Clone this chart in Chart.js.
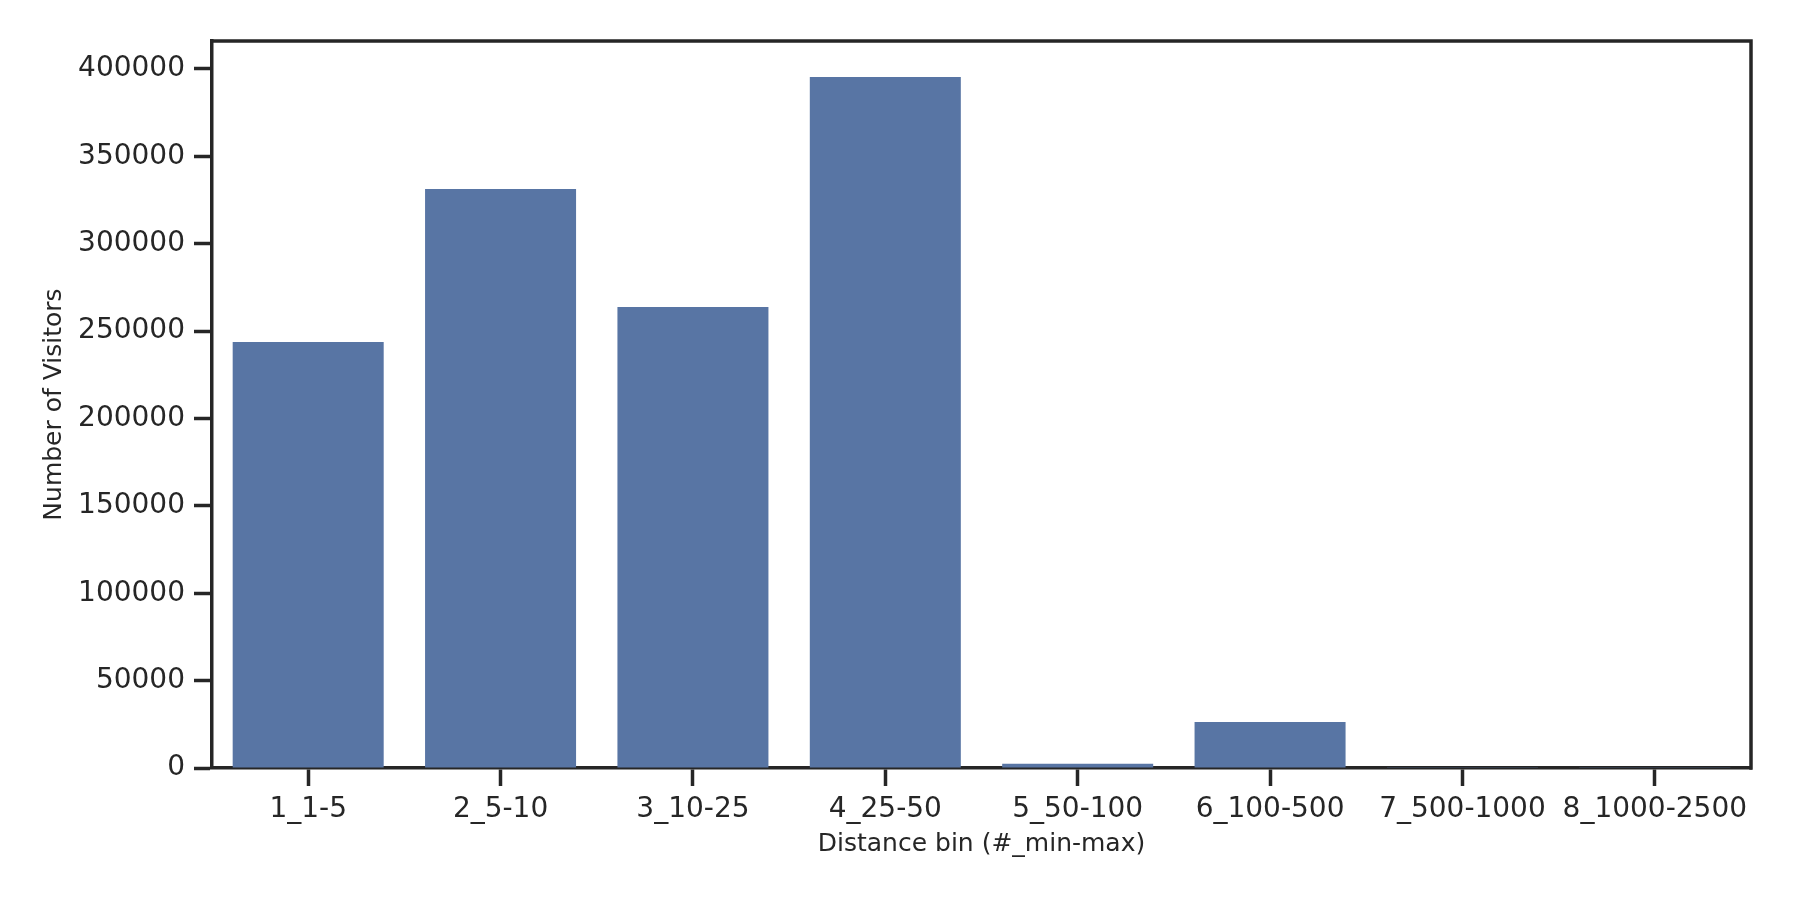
<!DOCTYPE html>
<html>
<head>
<meta charset="utf-8">
<script src="https://cdn.jsdelivr.net/npm/chart.js@4"></script>
<style>
  html, body { margin: 0; padding: 0; background: #ffffff; }
  #chart { display: block; }
</style>
</head>
<body>
<canvas id="chart" width="1800" height="900"></canvas>
<script>
// distance bins and visitor counts
const categories = ["1_1-5", "2_5-10", "3_10-25", "4_25-50", "5_50-100", "6_100-500", "7_500-1000", "8_1000-2500"];
const visitors = [243800, 331300, 263800, 395400, 2500, 26300, 400, 100];
const yTicks = [0, 50000, 100000, 150000, 200000, 250000, 300000, 350000, 400000];

const ink = "#262626";
const barColor = "#5875a4";
const fontFamily = "'DejaVu Sans', sans-serif";
const lineW = 3.5;

// top and right spines, like a matplotlib frame
const frame = {
  id: "frame",
  afterDraw(chart) {
    const { ctx, chartArea } = chart;
    ctx.save();
    ctx.strokeStyle = ink;
    ctx.lineWidth = lineW;
    ctx.lineCap = "square";
    ctx.beginPath();
    ctx.moveTo(chartArea.left, chartArea.top);
    ctx.lineTo(chartArea.right, chartArea.top);
    ctx.lineTo(chartArea.right, chartArea.bottom);
    ctx.stroke();
    ctx.restore();
  },
};

new Chart(document.getElementById("chart"), {
  type: "bar",
  data: {
    labels: categories,
    datasets: [
      {
        label: "Number of Visitors",
        data: visitors,
        backgroundColor: barColor,
        borderWidth: 0,
        categoryPercentage: 0.785,
        barPercentage: 1.0,
      },
    ],
  },
  options: {
    responsive: false,
    animation: false,
    devicePixelRatio: 1,
    layout: { padding: { top: 41, right: 49, left: 0, bottom: 0 } },
    plugins: {
      legend: { display: false },
      tooltip: { enabled: false },
    },
    scales: {
      x: {
        offset: true,
        afterFit(scale) {
          scale.height = 132;
        },
        grid: {
          offset: false,
          drawOnChartArea: false,
          drawTicks: true,
          tickLength: 18,
          tickWidth: lineW,
          tickColor: ink,
        },
        border: { display: true, color: ink, width: lineW },
        ticks: {
          color: ink,
          font: { family: fontFamily, size: 28 },
          padding: 7,
          maxRotation: 0,
          autoSkip: false,
        },
        title: {
          display: true,
          text: "Distance bin (#_min-max)",
          color: ink,
          font: { family: fontFamily, size: 25 },
          padding: { top: 0, bottom: 41 },
        },
      },
      y: {
        min: 0,
        max: 416000,
        afterFit(scale) {
          scale.width = 212;
        },
        afterBuildTicks(scale) {
          scale.ticks = yTicks.map((v) => ({ value: v }));
        },
        grid: {
          drawOnChartArea: false,
          drawTicks: true,
          tickLength: 18,
          tickWidth: lineW,
          tickColor: ink,
        },
        border: { display: true, color: ink, width: lineW },
        ticks: {
          color: ink,
          font: { family: fontFamily, size: 28 },
          padding: 9,
          callback: (v) => String(v),
        },
        title: {
          display: true,
          text: "Number of Visitors",
          color: ink,
          font: { family: fontFamily, size: 25 },
          padding: { top: 39, bottom: 0 },
        },
      },
    },
  },
  plugins: [frame],
});
</script>
</body>
</html>
